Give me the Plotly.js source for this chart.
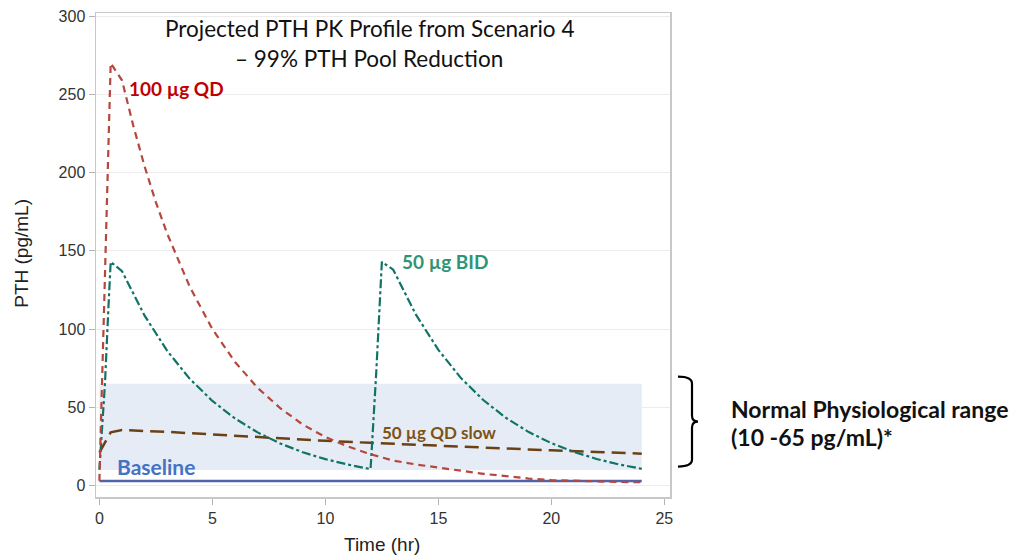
<!DOCTYPE html>
<html>
<head>
<meta charset="utf-8">
<script src="https://cdn.plot.ly/plotly-3.0.1.min.js"></script>
<style>html,body{margin:0;padding:0;background:#fff;}#chart{width:1017px;height:556px;}</style>
</head>
<body>
<div id="chart"></div>
<script>
// ---- data ----
const qd100Time  = [0, 0.5, 1, 1.5, 2, 2.5, 3, 4, 5, 6, 7, 8, 9, 10, 11, 12, 13, 14, 15, 16, 17, 18, 19, 20, 21, 22, 23, 24];
const qd100Value = [3, 270, 259, 230, 204, 181, 161, 127, 100, 79, 62.5, 49.5, 39, 31, 25, 20, 16, 13.5, 11.5, 9.5, 7.5, 6, 4.5, 3.5, 3, 2.6, 2.3, 2.1];

const bidTime  = [0, 0.25, 0.4, 0.5, 1, 2, 3, 4, 5, 6, 7, 8, 9, 10, 11, 12, 12.25, 12.4, 12.5, 13, 14, 15, 16, 17, 18, 19, 20, 21, 22, 23, 24];
const bidValue = [10, 66, 114, 143, 137, 108.6, 86.1, 68.2, 54.1, 42.9, 34, 26.9, 21.3, 16.9, 13.4, 10.5, 72, 114, 143, 138, 109.4, 86.7, 68.7, 54.5, 43.2, 34.2, 27.1, 21.5, 17, 13.5, 10.7];

const slowTime  = [0, 0.5, 1, 2, 3, 4, 6, 8, 10, 12, 14, 16, 18, 20, 22, 24];
const slowValue = [21, 34, 35.5, 35, 34.3, 33.5, 31.8, 30, 28.6, 27.3, 26, 24.8, 23.6, 22.5, 21.4, 20.4];

const baseTime  = [0, 24];
const baseValue = [3, 3];

const normalRange = [10, 65];     // pg/mL
const rangeTime   = [0, 24];      // hr

const xTicks = [0, 5, 10, 15, 20, 25];
const yTicks = [0, 50, 100, 150, 200, 250, 300];

const titleLines = ['Projected PTH PK Profile from Scenario 4', '– 99% PTH Pool Reduction'];
const seriesLabels = ['100 µg QD', '50 µg BID', '50 µg QD slow', 'Baseline'];
const rangeLabel = ['Normal Physiological range', '(10 -65 pg/mL)*'];
const xTitle = 'Time (hr)';
const yTitle = 'PTH (pg/mL)';

// ---- figure ----
const C = {
  red: '#b5473d', teal: '#0f7466', brown: '#6b4114', blue: '#5163ab',
  redTxt: '#c00000', tealTxt: '#2f9474', brownTxt: '#7e5213', blueTxt: '#4472c4'
};
const F = 'Lato, "Open Sans", sans-serif';
const A = '"Liberation Sans", Arial, sans-serif';

const traces = [
  {x: baseTime, y: baseValue, mode: 'lines', line: {color: C.blue, width: 2.5}},
  {x: slowTime, y: slowValue, mode: 'lines', line: {color: C.brown, width: 2.5, dash: '14px,7px'}},
  {x: bidTime, y: bidValue, mode: 'lines', line: {color: C.teal, width: 2.2, dash: 'dashdot'}},
  {x: qd100Time, y: qd100Value, mode: 'lines', line: {color: C.red, width: 2.2, dash: '7px,5px'}}
];

// paper coordinates helper for pixel positions in the frame
const L = 96, R = 670, T = 13, B = 497.5;
const px = v => (v - L) / (R - L);
const py = v => (B - v) / (B - T);

const bracketPath = `M ${px(678)} ${py(377)} Q ${px(692)} ${py(377)} ${px(692)} ${py(384)} L ${px(692)} ${py(416)} Q ${px(692)} ${py(422)} ${px(698)} ${py(422)} Q ${px(692)} ${py(422)} ${px(692)} ${py(428)} L ${px(692)} ${py(460)} Q ${px(692)} ${py(467)} ${px(678)} ${py(467)}`;

const layout = {
  width: 1017, height: 556,
  margin: {l: L, r: 1017 - R, t: T, b: 556 - B},
  paper_bgcolor: '#ffffff', plot_bgcolor: '#ffffff',
  showlegend: false,
  xaxis: {
    range: [-0.15, 25.25], tickvals: xTicks, ticks: 'outside', ticklen: 6, tickcolor: '#b4b4b4',
    showgrid: false, zeroline: false, showline: true, mirror: true, linecolor: '#c8c8c8', linewidth: 1.5,
    tickfont: {family: A, size: 16, color: '#333'}
  },
  yaxis: {
    range: [-7.3, 302], tickvals: yTicks, ticks: 'outside', ticklen: 6, tickcolor: '#b4b4b4',
    showgrid: true, gridcolor: '#ececec', gridwidth: 1, zeroline: false, showline: true, mirror: true, linecolor: '#c8c8c8', linewidth: 1.5,
    tickfont: {family: A, size: 16, color: '#333'}
  },
  shapes: [
    {type: 'rect', xref: 'x', yref: 'y', x0: rangeTime[0], x1: rangeTime[1], y0: normalRange[0], y1: normalRange[1],
     fillcolor: '#e6ecf6', line: {width: 0}, layer: 'below'},
    {type: 'path', xref: 'paper', yref: 'paper', path: bracketPath, line: {color: '#000', width: 2.2}}
  ],
  annotations: [
    {xref: 'paper', yref: 'paper', x: px(382), y: py(545), text: xTitle, showarrow: false, xanchor: 'center', yanchor: 'middle',
     font: {family: A, size: 19, color: '#222'}},
    {xref: 'paper', yref: 'paper', x: px(22), y: py(254), text: yTitle, textangle: -90, showarrow: false, xanchor: 'center', yanchor: 'middle',
     font: {family: A, size: 19, color: '#222'}},
    {xref: 'paper', yref: 'paper', x: px(369), y: py(29), text: titleLines[0], showarrow: false, xanchor: 'center', yanchor: 'middle',
     font: {family: F, size: 22.5, color: '#111'}},
    {xref: 'paper', yref: 'paper', x: px(369), y: py(59), text: titleLines[1], showarrow: false, xanchor: 'center', yanchor: 'middle',
     font: {family: F, size: 22.5, color: '#111'}},
    {xref: 'x', yref: 'y', x: 1.2, y: 254, text: '<b>' + seriesLabels[0] + '</b>', showarrow: false, xanchor: 'left', yanchor: 'middle',
     font: {family: F, size: 19, color: C.redTxt}},
    {xref: 'x', yref: 'y', x: 13.3, y: 143, text: '<b>' + seriesLabels[1] + '</b>', showarrow: false, xanchor: 'left', yanchor: 'middle',
     font: {family: F, size: 19, color: C.tealTxt}},
    {xref: 'x', yref: 'y', x: 12.4, y: 34, text: '<b>' + seriesLabels[2] + '</b>', showarrow: false, xanchor: 'left', yanchor: 'middle',
     font: {family: F, size: 17, color: C.brownTxt}},
    {xref: 'x', yref: 'y', x: 0.7, y: 12.5, text: '<b>' + seriesLabels[3] + '</b>', showarrow: false, xanchor: 'left', yanchor: 'middle',
     font: {family: F, size: 21, color: C.blueTxt}},
    {xref: 'paper', yref: 'paper', x: px(729), y: py(409), text: '<b>' + rangeLabel[0] + '</b>', showarrow: false, xanchor: 'left', yanchor: 'middle',
     font: {family: F, size: 23, color: '#111'}},
    {xref: 'paper', yref: 'paper', x: px(729), y: py(437), text: '<b>' + rangeLabel[1] + '</b>', showarrow: false, xanchor: 'left', yanchor: 'middle',
     font: {family: F, size: 23, color: '#111'}}
  ]
};

Plotly.newPlot('chart', traces, layout, {displayModeBar: false, staticPlot: true});
</script>
</body>
</html>
